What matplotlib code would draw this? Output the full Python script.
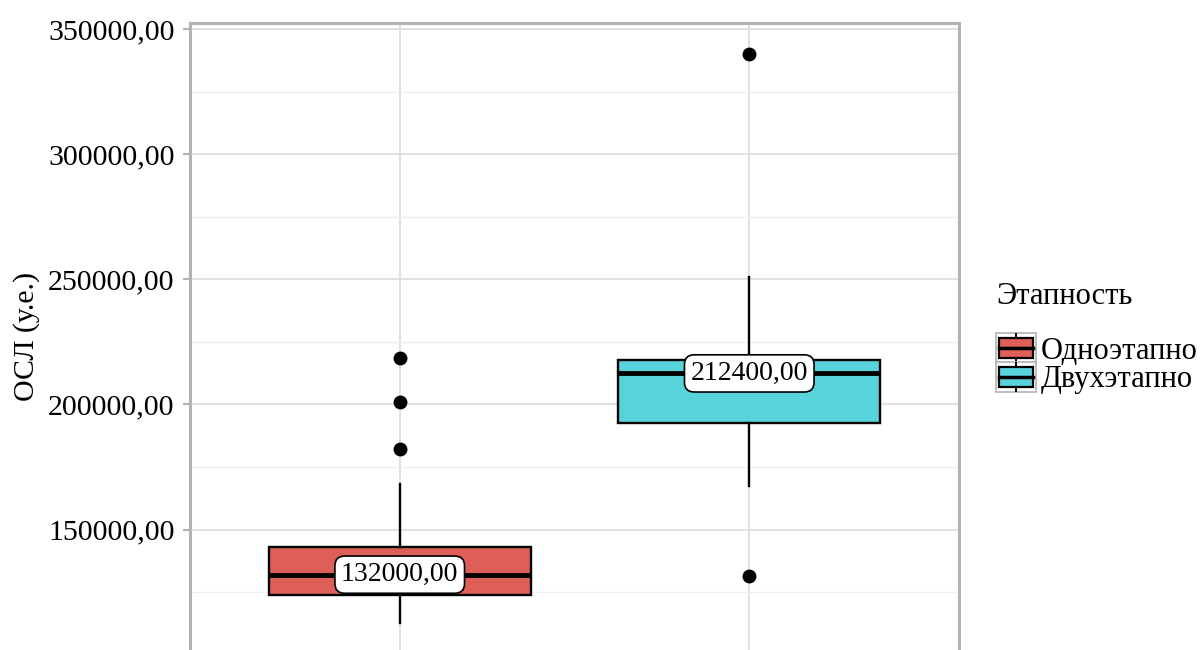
import matplotlib
matplotlib.use('Agg')
import matplotlib.pyplot as plt
from matplotlib.patches import Rectangle
from matplotlib.lines import Line2D
from matplotlib.legend_handler import HandlerBase
from matplotlib.ticker import FuncFormatter, MultipleLocator

# ---- data ----
categories = ['Одноэтапно', 'Двухэтапно']
q1 = [123750, 192400]
medians = [132000, 212400]
q3 = [143200, 217900]
whisker_low = [112700, 167500]
whisker_high = [168300, 251000]
outliers = [[182200, 200900, 218400], [340100, 131300]]
median_labels = ['132000,00', '212400,00']
fill_colors = ['#DD5F57', '#57D3DB']
legend_title = 'Этапность'
y_label = 'ОСЛ (у.е.)'

plt.rcParams['font.family'] = ['Liberation Serif', 'DejaVu Serif']
FS = 21.5
LFS = 22

fig = plt.figure(figsize=(12, 6.5), dpi=100)
ax = fig.add_axes([190 / 1200, 0, (959 - 190) / 1200, 1 - 23 / 650])

stats = []
for i, c in enumerate(categories):
    stats.append(dict(label=c, q1=q1[i], med=medians[i], q3=q3[i],
                      whislo=whisker_low[i], whishi=whisker_high[i],
                      fliers=outliers[i]))

positions = list(range(1, len(categories) + 1))
bp = ax.bxp(stats, positions=positions, widths=0.75, patch_artist=True,
            showcaps=False,
            boxprops=dict(edgecolor='black', linewidth=1.7),
            medianprops=dict(color='black', linewidth=3.5),
            whiskerprops=dict(color='black', linewidth=1.7),
            flierprops=dict(marker='o', markerfacecolor='black',
                            markeredgecolor='black', markersize=9),
            zorder=3)
for patch, col in zip(bp['boxes'], fill_colors):
    patch.set_facecolor(col)

for x, m, lab in zip(positions, medians, median_labels):
    ax.text(x, m, lab, ha='center', va='center', fontsize=20, zorder=5,
            bbox=dict(boxstyle='round,pad=0.22,rounding_size=0.35',
                      fc='white', ec='black', lw=1.2))

ax.set_xlim(0.4, 2.6)
ax.set_ylim(101900, 352400)
ax.set_xticks(positions)
ax.set_xticklabels([])
ax.tick_params(axis='x', length=0)
ax.yaxis.set_major_locator(MultipleLocator(50000))
ax.yaxis.set_minor_locator(MultipleLocator(25000))
ax.yaxis.set_major_formatter(FuncFormatter(lambda v, p: f'{v:.2f}'.replace('.', ',')))
ax.tick_params(axis='y', which='major', labelsize=FS, length=5, width=1.5,
               color='#b3b3b3', pad=6)
ax.tick_params(axis='y', which='minor', length=0)

ax.grid(True, which='major', color='#dcdcdc', linewidth=1.2, zorder=0)
ax.grid(True, which='minor', axis='y', color='#efefef', linewidth=1.0, zorder=0)
ax.set_axisbelow(True)

for side in ['left', 'top', 'right']:
    ax.spines[side].set_color('#b3b3b3')
    ax.spines[side].set_linewidth(2.2)
ax.spines['bottom'].set_visible(False)

ax.set_ylabel(y_label, fontsize=FS)
ax.yaxis.set_label_coords(-150 / 769, 0.5)


class BoxKeyHandler(HandlerBase):
    def __init__(self, color):
        super().__init__()
        self.color = color

    def create_artists(self, legend, orig_handle, xdescent, ydescent,
                       width, height, fontsize, trans):
        x0, y0 = -xdescent, -ydescent
        frame = Rectangle((x0, y0), width, height, facecolor='white',
                          edgecolor='#b3b3b3', lw=1.2, transform=trans)
        bx0 = x0 + width * 0.07
        bw = width * 0.86
        by0 = y0 + height * 0.17
        bh = height * 0.66
        box = Rectangle((bx0, by0), bw, bh, facecolor=self.color,
                        edgecolor='black', lw=1.6, transform=trans)
        cx = x0 + width / 2
        ym = by0 + bh / 2
        med = Line2D([bx0, bx0 + bw], [ym, ym], color='black', lw=2.5,
                     transform=trans)
        w1 = Line2D([cx, cx], [y0 + height * 0.04, by0], color='black',
                    lw=1.4, transform=trans)
        w2 = Line2D([cx, cx], [by0 + bh, y0 + height * 0.96], color='black',
                    lw=1.4, transform=trans)
        return [frame, w1, w2, box, med]


fig.text(996 / 1200, 1 - 296 / 650, legend_title, fontsize=LFS,
         ha='left', va='center')

handles = [Rectangle((0, 0), 1, 1) for _ in categories]
handler_map = {h: BoxKeyHandler(c) for h, c in zip(handles, fill_colors)}
leg = fig.legend(handles, categories, handler_map=handler_map,
                 loc='upper left',
                 bbox_to_anchor=(996 / 1200, 1 - 333 / 650),
                 frameon=False, fontsize=LFS,
                 handlelength=1.3, handleheight=1.15, handletextpad=0.15,
                 labelspacing=-0.13, borderaxespad=0, borderpad=0)

fig.savefig('out.png', dpi=100, facecolor='white')
